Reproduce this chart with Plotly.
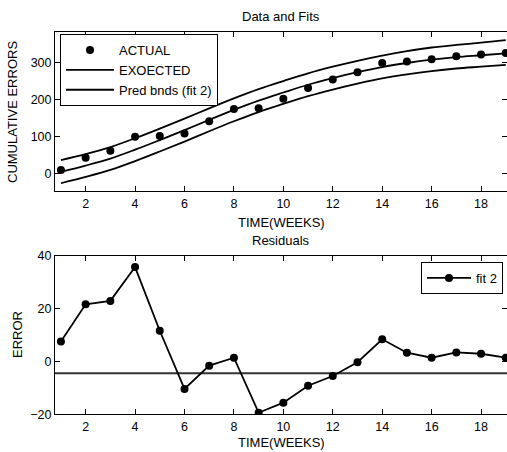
import plotly.graph_objects as go

weeks = list(range(1, 20))
actual = [9, 42, 61, 99, 101, 108, 141, 174, 176, 202, 231, 254, 274, 299, 303, 309, 317, 322, 326]
expected = [4, 21, 40, 64, 90, 117, 145, 172, 197, 219, 240, 258, 274, 288, 299, 308, 315, 320, 325]
upper_bnd = [36, 52, 71, 95, 121, 148, 176, 203, 228, 250, 271, 289, 305, 319, 331, 341, 348, 354, 361]
lower_bnd = [-27, -10, 9, 33, 59, 86, 114, 141, 166, 188, 209, 227, 243, 257, 268, 277, 284, 289, 294]
residuals = [7.5, 21.6, 22.9, 35.7, 11.6, -10.4, -1.6, 1.4, -19.4, -15.6, -9.2, -5.5, -0.3, 8.4, 3.3, 1.4, 3.4, 2.9, 1.4]
ref_level = -4.5
x_ticks = [2, 4, 6, 8, 10, 12, 14, 16, 18]
top_yticks = [0, 100, 200, 300]
bot_yticks = [-20, 0, 20, 40]

W, H = 507, 452
L = 55
FONT = "Arial, Liberation Sans, sans-serif"
xr = [0.76, 19.05]


def px2paper(x):
    return (x - L) / (W - L)


fig = go.Figure()
fig.add_trace(go.Scatter(x=weeks, y=actual, mode="markers", name="ACTUAL",
                         marker=dict(color="black", size=8), xaxis="x", yaxis="y", legend="legend"))
fig.add_trace(go.Scatter(x=weeks, y=expected, mode="lines", name="EXOECTED", line_shape="spline",
                         line=dict(color="black", width=1.8), xaxis="x", yaxis="y", legend="legend"))
fig.add_trace(go.Scatter(x=weeks, y=upper_bnd, mode="lines", name="Pred bnds (fit 2)", line_shape="spline",
                         line=dict(color="black", width=1.8), xaxis="x", yaxis="y", legend="legend",
                         legendgroup="pb"))
fig.add_trace(go.Scatter(x=weeks, y=lower_bnd, mode="lines", name="Pred bnds (fit 2)", line_shape="spline",
                         line=dict(color="black", width=1.8), xaxis="x", yaxis="y", legend="legend",
                         legendgroup="pb", showlegend=False))

fig.add_trace(go.Scatter(x=xr, y=[ref_level, ref_level], mode="lines", showlegend=False,
                         line=dict(color="#333333", width=2), xaxis="x2", yaxis="y2"))
fig.add_trace(go.Scatter(x=weeks, y=residuals, mode="lines+markers", name="fit 2",
                         line=dict(color="black", width=1.8), marker=dict(color="black", size=8),
                         xaxis="x2", yaxis="y2", legend="legend2"))

axis_common = dict(showline=True, linecolor="black", linewidth=1, mirror="ticks", ticks="inside",
                   ticklen=5, tickcolor="black", showgrid=False, zeroline=False,
                   tickfont=dict(family=FONT, size=12.5, color="black"))

top_dom = [1 - 191 / H, 1 - 32 / H]
bot_dom = [1 - 414.3 / H, 1 - 255.7 / H]

fig.update_layout(
    width=W, height=H, margin=dict(l=L, r=0, t=0, b=0, autoexpand=False),
    paper_bgcolor="white", plot_bgcolor="white",
    font=dict(family=FONT, size=13, color="black"),
    xaxis=dict(domain=[0, 1], range=xr, tickvals=x_ticks, anchor="y", ticklabelstandoff=1, **axis_common),
    yaxis=dict(domain=top_dom, range=[-48, 383], tickvals=top_yticks, anchor="x", **axis_common),
    xaxis2=dict(domain=[0, 1], range=xr, tickvals=x_ticks, anchor="y2", ticklabelstandoff=1, **axis_common),
    yaxis2=dict(domain=bot_dom, range=[-20, 40], tickvals=bot_yticks, anchor="x2", **axis_common),
    legend=dict(x=px2paper(60), y=1 - 34 / H, xanchor="left", yanchor="top",
                bordercolor="black", borderwidth=1, bgcolor="white", itemwidth=48,
                font=dict(family=FONT, size=13, color="black"), tracegroupgap=0),
    legend2=dict(x=px2paper(503), y=1 - 262 / H, xanchor="right", yanchor="top",
                 bordercolor="black", borderwidth=1, bgcolor="white", itemwidth=44,
                 font=dict(family=FONT, size=13, color="black")),
    showlegend=True,
)

for text, xpx, ypx, ang in [("Data and Fits", 281, 16, 0), ("TIME(WEEKS)", 281, 222, 0),
                            ("Residuals", 281, 240, 0), ("TIME(WEEKS)", 281, 442, 0),
                            ("CUMULATIVE ERRORS", 13, 112, -90), ("ERROR", 17, 335, -90)]:
    fig.add_annotation(text=text, x=px2paper(xpx), y=1 - ypx / H, xref="paper", yref="paper",
                       xanchor="center", yanchor="middle", showarrow=False, textangle=ang,
                       font=dict(family=FONT, size=13, color="black"))

fig.write_html("out.html")
